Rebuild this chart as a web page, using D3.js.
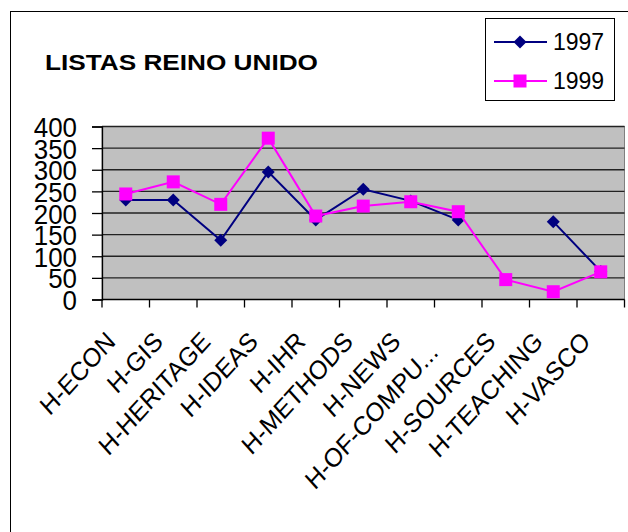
<!DOCTYPE html>
<html>
<head>
<meta charset="utf-8">
<script src="https://cdn.jsdelivr.net/npm/d3@7"></script>
<style>
  body { margin: 0; background: #fff; }
  svg { display: block; font-family: "Liberation Sans", Arial, sans-serif; }
</style>
</head>
<body>
<div id="chart"></div>
<script>
const categories = ["H-ECON", "H-GIS", "H-HERITAGE", "H-IDEAS", "H-IHR", "H-METHODS",
  "H-NEWS", "H-OF-COMPU...", "H-SOURCES", "H-TEACHING", "H-VASCO"];
const values1997 = [230, 230, 137, 295, 184, 255, 228, 184, null, 180, 65];
const values1999 = [244, 272, 220, 373, 193, 216, 226, 203, 46, 18, 64];
const yTicks = [0, 50, 100, 150, 200, 250, 300, 350, 400];
const seriesNames = ["1997", "1999"];

const width = 628, height = 532;
const plot = { left: 102, top: 126.5, right: 624.5, bottom: 299.5 };

const svg = d3.select("#chart").append("svg")
  .attr("width", width)
  .attr("height", height);

// outer chart frame (only top and left edges fall inside the window)
svg.append("rect")
  .attr("x", 10.5).attr("y", 11.5)
  .attr("width", width + 20).attr("height", height + 20)
  .attr("fill", "#fff").attr("stroke", "#000");

svg.append("text")
  .attr("x", 45).attr("y", 70)
  .attr("font-size", 22).attr("font-weight", "bold")
  .attr("textLength", 273).attr("lengthAdjust", "spacingAndGlyphs")
  .text("LISTAS REINO UNIDO");

const x = d3.scaleBand().domain(categories).range([plot.left, plot.right]).padding(0);
const y = d3.scaleLinear().domain([0, 400]).range([plot.bottom, plot.top]);

// plot area
svg.append("rect")
  .attr("x", plot.left).attr("y", plot.top)
  .attr("width", plot.right - plot.left).attr("height", plot.bottom - plot.top)
  .attr("fill", "#c0c0c0").attr("stroke", "#808080");

// grid lines
svg.append("g").selectAll("line")
  .data(yTicks.filter(d => d > 0))
  .join("line")
  .attr("x1", plot.left).attr("x2", plot.right)
  .attr("y1", d => y(d)).attr("y2", d => y(d))
  .attr("stroke", "#222").attr("stroke-width", 1.3);

// y axis
const yAxis = svg.append("g")
  .attr("transform", `translate(${plot.left},0)`)
  .call(d3.axisLeft(y).tickValues(yTicks).tickSize(10).tickPadding(15));
yAxis.select(".domain").attr("stroke", "#000").attr("stroke-width", 1.3);
yAxis.selectAll(".tick line").attr("stroke", "#000").attr("stroke-width", 1.3);
yAxis.selectAll("text")
  .attr("font-size", 28).attr("font-family", "Liberation Sans, Arial, sans-serif")
  .attr("fill", "#000").attr("dy", "0.36em")
  .attr("textLength", d => String(d).length * 14.4)
  .attr("lengthAdjust", "spacingAndGlyphs");

// x axis
const xAxis = svg.append("g");
xAxis.append("line")
  .attr("x1", plot.left).attr("x2", plot.right)
  .attr("y1", plot.bottom).attr("y2", plot.bottom)
  .attr("stroke", "#000").attr("stroke-width", 1.3);
xAxis.selectAll("line.tick")
  .data(categories.concat([null]))
  .join("line")
  .attr("class", "tick")
  .attr("x1", d => d === null ? plot.right : x(d))
  .attr("x2", d => d === null ? plot.right : x(d))
  .attr("y1", plot.bottom).attr("y2", plot.bottom + 8)
  .attr("stroke", "#000").attr("stroke-width", 1.3);
xAxis.selectAll("text")
  .data(categories)
  .join("text")
  .attr("text-anchor", "end")
  .attr("font-size", 24)
  // the truncated label sits a little further along its baseline
  .attr("dx", d => d.endsWith("...") ? -14 : 0)
  .attr("transform", d => `translate(${x(d) + x.bandwidth() / 2 - 9},343) scale(1,1.1) rotate(-45)`)
  .text(d => d);

const cx = (d, i) => x(categories[i]) + x.bandwidth() / 2;

// 1997 series
const line = d3.line()
  .defined(d => d !== null)
  .x(cx)
  .y(d => y(d));

svg.append("path")
  .datum(values1997)
  .attr("fill", "none").attr("stroke", "#000080").attr("stroke-width", 2)
  .attr("d", line);
svg.append("g").selectAll("path")
  .data(values1997.map((v, i) => ({ v, i })).filter(d => d.v !== null))
  .join("path")
  .attr("d", "M0,-6.5L6.5,0L0,6.5L-6.5,0Z")
  .attr("fill", "#000080")
  .attr("transform", d => `translate(${cx(d.v, d.i)},${y(d.v)})`);

// 1999 series
svg.append("path")
  .datum(values1999)
  .attr("fill", "none").attr("stroke", "#ff00ff").attr("stroke-width", 2)
  .attr("d", line);
svg.append("g").selectAll("rect")
  .data(values1999.map((v, i) => ({ v, i })))
  .join("rect")
  .attr("x", d => cx(d.v, d.i) - 6.5).attr("y", d => y(d.v) - 6.5)
  .attr("width", 13).attr("height", 13)
  .attr("fill", "#ff00ff");

// legend
const legend = svg.append("g");
legend.append("rect")
  .attr("x", 485.5).attr("y", 18.5).attr("width", 129).attr("height", 82)
  .attr("fill", "#fff").attr("stroke", "#000");
const legendY = [42, 81];
const legendColor = ["#000080", "#ff00ff"];
seriesNames.forEach((name, i) => {
  legend.append("line")
    .attr("x1", 494).attr("x2", 547)
    .attr("y1", legendY[i]).attr("y2", legendY[i])
    .attr("stroke", legendColor[i]).attr("stroke-width", 2);
  if (i === 0) {
    legend.append("path")
      .attr("d", "M0,-6.5L6.5,0L0,6.5L-6.5,0Z")
      .attr("fill", legendColor[i])
      .attr("transform", `translate(520,${legendY[i]})`);
  } else {
    legend.append("rect")
      .attr("x", 513.5).attr("y", legendY[i] - 6.5).attr("width", 13).attr("height", 13)
      .attr("fill", legendColor[i]);
  }
  legend.append("text")
    .attr("x", 553).attr("y", legendY[i]).attr("dy", "0.36em")
    .attr("font-size", 23)
    .text(name);
});
</script>
</body>
</html>
